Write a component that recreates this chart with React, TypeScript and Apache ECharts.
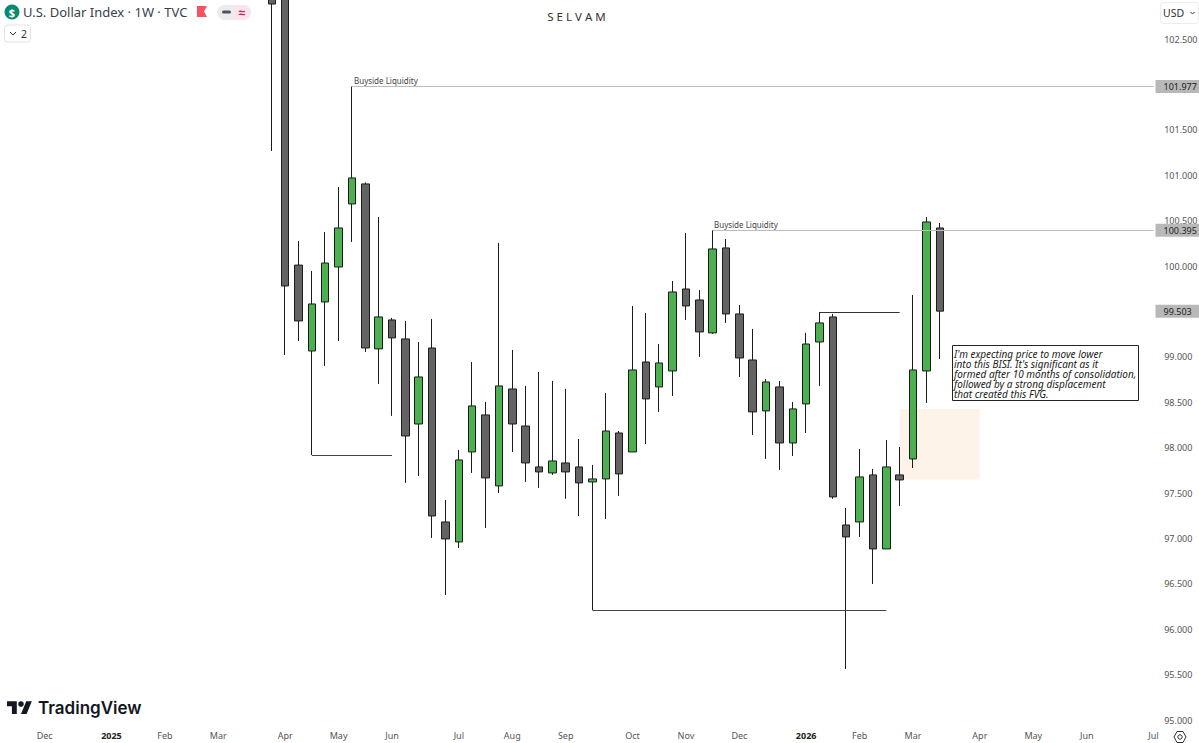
import React, { useEffect, useRef } from "react";
import * as echarts from "echarts";

// Weekly bars, Monday dates
const weeks = [
  "2024-11-11","2024-11-18","2024-11-25","2024-12-02","2024-12-09","2024-12-16","2024-12-23","2024-12-30",
  "2025-01-06","2025-01-13","2025-01-20","2025-01-27","2025-02-03","2025-02-10","2025-02-17","2025-02-24",
  "2025-03-03","2025-03-10","2025-03-17","2025-03-24","2025-03-31","2025-04-07","2025-04-14","2025-04-21","2025-04-28",
  "2025-05-05","2025-05-12","2025-05-19","2025-05-26","2025-06-02","2025-06-09","2025-06-16","2025-06-23","2025-06-30",
  "2025-07-07","2025-07-14","2025-07-21","2025-07-28","2025-08-04","2025-08-11","2025-08-18","2025-08-25",
  "2025-09-01","2025-09-08","2025-09-15","2025-09-22","2025-09-29","2025-10-06","2025-10-13","2025-10-20","2025-10-27",
  "2025-11-03","2025-11-10","2025-11-17","2025-11-24","2025-12-01","2025-12-08","2025-12-15","2025-12-22","2025-12-29",
  "2026-01-05","2026-01-12","2026-01-19","2026-01-26","2026-02-02","2026-02-09","2026-02-16","2026-02-23",
  "2026-03-02","2026-03-09","2026-03-16","2026-03-23","2026-03-30","2026-04-06","2026-04-13","2026-04-20","2026-04-27",
  "2026-05-04","2026-05-11","2026-05-18","2026-05-25","2026-06-01","2026-06-08","2026-06-15","2026-06-22","2026-06-29","2026-07-06",
];
const monthTicks: Record<string, string> = {
  "2024-12-02": "Dec", "2025-01-06": "2025", "2025-02-03": "Feb", "2025-03-03": "Mar", "2025-04-07": "Apr",
  "2025-05-05": "May", "2025-06-02": "Jun", "2025-07-07": "Jul", "2025-08-04": "Aug", "2025-09-01": "Sep",
  "2025-10-06": "Oct", "2025-11-03": "Nov", "2025-12-01": "Dec", "2026-01-05": "2026", "2026-02-02": "Feb",
  "2026-03-02": "Mar", "2026-04-06": "Apr", "2026-05-04": "May", "2026-06-01": "Jun", "2026-07-06": "Jul",
};
const firstBarWeek = "2025-03-31";
const opens = [103.6,103.3,100.01,99.064,99.604,99.989,100.683,100.904,99.087,99.406,99.197,98.26,99.097,97.181,96.961,97.952,98.36,97.578,98.646,98.238,97.787,97.721,97.831,97.787,97.622,97.655,98.161,97.952,98.943,98.668,98.844,99.747,99.626,99.263,100.199,99.472,98.965,98.404,98.668,98.051,98.481,99.163,99.439,97.148,97.181,97.699,96.884,97.699,97.875,98.844,100.419];
const closes = [102.885,99.78,99.395,99.582,100.033,100.419,100.97,99.097,99.439,99.208,98.128,98.778,97.247,96.994,97.864,98.459,97.666,98.679,98.26,97.831,97.732,97.853,97.732,97.611,97.655,98.183,97.71,98.855,98.536,98.932,99.714,99.56,99.274,100.188,99.472,98.987,98.393,98.723,98.051,98.426,99.141,99.373,97.457,97.016,97.677,96.884,97.787,97.644,98.855,100.485,99.503];
const lows = [101.267,99.02,99.174,97.919,98.899,99.174,100.265,99.053,98.701,98.349,97.611,97.688,97.005,96.377,96.895,97.721,97.115,97.5,97.952,97.622,97.556,97.699,97.435,97.247,96.212,97.214,97.468,97.952,98.04,98.393,98.569,99.406,98.998,99.252,99.373,98.778,98.139,97.875,97.754,97.908,98.161,98.679,97.435,95.562,97.016,96.498,96.884,97.357,97.776,98.492,98.976];
const highs = [104,103.6,100.276,99.945,100.375,100.87,101.977,100.92,100.54,99.428,99.395,99.163,99.417,97.424,97.974,98.943,98.503,100.254,99.075,98.679,98.833,98.734,98.646,98.095,97.809,98.602,98.183,99.56,99.483,99.141,99.835,100.364,99.736,100.395,100.298,99.571,99.307,98.756,98.734,98.503,99.263,99.494,99.472,97.335,97.985,97.765,98.084,98.007,99.681,100.54,100.474];

const buysideLevels = [
  { from: "2025-05-12", price: 101.977 },
  { from: "2025-11-17", price: 100.395 },
];
const lastPrice = 99.503;
const sellsideLines = [
  { from: "2025-04-21", to: "2025-06-02", price: 97.919, color: "#444444" },
  { from: "2025-09-15", to: "2026-02-16", price: 96.212, color: "#444444" },
  { from: "2026-01-12", to: "2026-02-23", price: 99.494, color: "#333333" },
];
const fvgZone = { from: "2026-02-23", to: "2026-04-06", top: 98.425, bottom: 97.65 };
const noteText = [
  "I'm expecting price to move lower",
  "into this BISI. It's significant as it",
  "formed after 10 months of consolidation,",
  "followed by a strong displacement",
  "that created this FVG.",
].join("\n");

const FONT = '"Noto Sans", sans-serif';
const tvD = "M14 22H7V11H0V4h14v18zM28 22h-8l7.5-18h8L28 22z";
echarts.graphic.registerShape("tvLogo", (echarts.graphic as any).extendPath(tvD, {}));

export default function App() {
  const ref = useRef<HTMLDivElement>(null);
  useEffect(() => {
    const chart = echarts.init(ref.current!, undefined, { renderer: "svg" });
    const start = weeks.indexOf(firstBarWeek);
    const candles = weeks.map((_, i) => {
      const k = i - start;
      return k >= 0 && k < opens.length ? [opens[k], closes[k], lows[k], highs[k]] : ["-", "-", "-", "-"];
    });
    const lastWeek = weeks[weeks.length - 1];
    const priceTag = (text: string) => ({
      show: true, position: "end", distance: 2, formatter: text, backgroundColor: "#b8b8b8",
      padding: [2, 10, 2, 8], color: "#222222", fontSize: 9, fontFamily: FONT,
    });
    const markLines: any[] = [
      ...buysideLevels.map((l) => [
        { coord: [l.from, l.price], lineStyle: { color: "#bcbcbc", width: 1, type: "solid" }, label: priceTag(l.price.toFixed(3)) },
        { coord: [lastWeek, l.price] },
      ]),
      ...sellsideLines.map((l) => [
        { coord: [l.from, l.price], lineStyle: { color: l.color, width: 1, type: "solid" }, label: { show: false } },
        { coord: [l.to, l.price] },
      ]),
      [
        { coord: [weeks[weeks.length - 2], lastPrice], lineStyle: { color: "transparent", width: 0 }, label: priceTag(lastPrice.toFixed(3)) },
        { coord: [lastWeek, lastPrice] },
      ],
    ];
    chart.setOption({
      animation: false,
      backgroundColor: "#ffffff",
      grid: { left: -2.1, right: 38.8, top: -6.4, bottom: 23, containLabel: false, outerBoundsMode: "none" },
      xAxis: {
        type: "category",
        data: weeks,
        boundaryGap: true,
        axisLine: { show: false },
        axisTick: { show: false },
        splitLine: { show: false },
        axisLabel: {
          interval: 0,
          margin: 11,
          color: "#555555",
          fontSize: 9,
          fontFamily: FONT,
          formatter: (v: string) => {
            const t = monthTicks[v];
            if (!t) return "";
            return /^\d+$/.test(t) ? `{y|${t}}` : t;
          },
          rich: { y: { fontWeight: 700, color: "#222222", fontSize: 9, fontFamily: FONT } },
        },
      },
      yAxis: {
        type: "value",
        position: "right",
        min: 95,
        max: 103,
        interval: 0.5,
        axisLine: { show: false },
        axisTick: { show: false },
        splitLine: { show: false },
        axisLabel: {
          margin: 4,
          color: "#555555",
          fontSize: 9,
          fontFamily: FONT,
          formatter: (v: number) => (v >= 103 ? "" : v.toFixed(3)),
        },
      },
      series: [
        {
          type: "candlestick",
          data: candles,
          barWidth: 8,
          itemStyle: {
            color: "#4caf50",
            color0: "#636363",
            borderColor: "#1c1c1c",
            borderColor0: "#1c1c1c",
            borderWidth: 1,
          },
          markArea: {
            silent: true,
            itemStyle: { color: "#fef3e8" },
            data: [[
              { coord: [fvgZone.from, fvgZone.top] },
              { coord: [fvgZone.to, fvgZone.bottom] },
            ]],
          },
          markLine: {
            silent: true,
            animation: false,
            symbol: ["none", "none"],
            data: markLines,
          },
        },
      ],
      graphic: [
        { type: "circle", shape: { cx: 12, cy: 12, r: 7.5 }, style: { fill: "#0b8a70" } },
        { type: "text", x: 12, y: 12, style: { text: "$", fill: "#ffffff", font: `700 11px ${FONT}`, textAlign: "center", textVerticalAlign: "middle" } },
        { type: "text", x: 23, y: 12, style: { text: "U.S. Dollar Index · 1W · TVC", fill: "#3a3f4a", font: `400 13px ${FONT}`, textVerticalAlign: "middle" } },
        { type: "polygon", shape: { points: [[197, 6], [207, 6], [204, 11.5], [207, 17], [197, 17]] }, style: { fill: "#f7525f" } },
        { type: "rect", shape: { x: 217, y: 5, width: 34, height: 15, r: 7.5 }, style: { fill: "#ececec" } },
        { type: "rect", shape: { x: 234, y: 5, width: 17, height: 15, r: [0, 7.5, 7.5, 0] }, style: { fill: "#fce4ec" } },
        { type: "rect", shape: { x: 222, y: 10.5, width: 9, height: 3, r: 1.5 }, style: { fill: "#50535e" } },
        { type: "text", x: 242, y: 12, style: { text: "≈", fill: "#c2185b", font: `700 12px ${FONT}`, textAlign: "center", textVerticalAlign: "middle" } },
        { type: "rect", shape: { x: 4.5, y: 25, width: 26, height: 17, r: 3 }, style: { fill: "#ffffff", stroke: "#e3e3e3", lineWidth: 1 } },
        { type: "polyline", shape: { points: [[10, 32], [13, 35], [16, 32]] }, style: { fill: "none", stroke: "#333333", lineWidth: 1 } },
        { type: "text", x: 21, y: 33.5, style: { text: "2", fill: "#333333", font: `400 10.5px ${FONT}`, textVerticalAlign: "middle" } },
        { type: "text", x: 576.5, y: 16, style: { text: "S E L V A M", fill: "#333333", font: `400 11.5px ${FONT}`, textAlign: "center", textVerticalAlign: "middle" } },
        { type: "rect", shape: { x: 1160.5, y: 2.5, width: 38, height: 21, r: 3 }, style: { fill: "#ffffff", stroke: "#ececec", lineWidth: 1 } },
        { type: "text", x: 1163, y: 13, style: { text: "USD", fill: "#333333", font: `400 10.5px ${FONT}`, textVerticalAlign: "middle" } },
        { type: "polyline", shape: { points: [[1190.5, 12], [1192.5, 14], [1194.5, 12]] }, style: { fill: "none", stroke: "#333333", lineWidth: 1 } },
        { type: "text", x: 354, y: 80, style: { text: "Buyside Liquidity", fill: "#444444", font: `400 8px ${FONT}`, textVerticalAlign: "middle" } },
        { type: "text", x: 714, y: 224, style: { text: "Buyside Liquidity", fill: "#444444", font: `400 8px ${FONT}`, textVerticalAlign: "middle" } },
        { type: "rect", shape: { x: 952.5, y: 345.5, width: 186, height: 55 }, style: { fill: "#ffffff", stroke: "#222222", lineWidth: 1 } },
        { type: "text", x: 954, y: 349, style: { text: noteText, fill: "#222222", font: `italic 400 10px ${FONT}`, lineHeight: 10 } },
        { type: "tvLogo", x: 7, y: 698.5, scaleX: 0.7, scaleY: 0.7, style: { fill: "#131722" } },
        { type: "circle", shape: { cx: 21, cy: 704, r: 2.8 }, style: { fill: "#131722" } },
        { type: "text", x: 38, y: 708, style: { text: "TradingView", fill: "#131722", font: `600 17px Inter, ${FONT}`, textVerticalAlign: "middle" } },
        { type: "polygon", shape: { points: [[1174, 737], [1177, 731.5], [1183, 731.5], [1186, 737], [1183, 742.5], [1177, 742.5]] }, style: { fill: "none", stroke: "#333333", lineWidth: 1 } },
        { type: "circle", shape: { cx: 1180, cy: 737, r: 2.2 }, style: { fill: "none", stroke: "#333333", lineWidth: 1 } },
      ],
    });
    return () => chart.dispose();
  }, []);
  return <div ref={ref} style={{ position: "fixed", left: 0, top: 0, width: 1199, height: 743, background: "#fff" }} />;
}
